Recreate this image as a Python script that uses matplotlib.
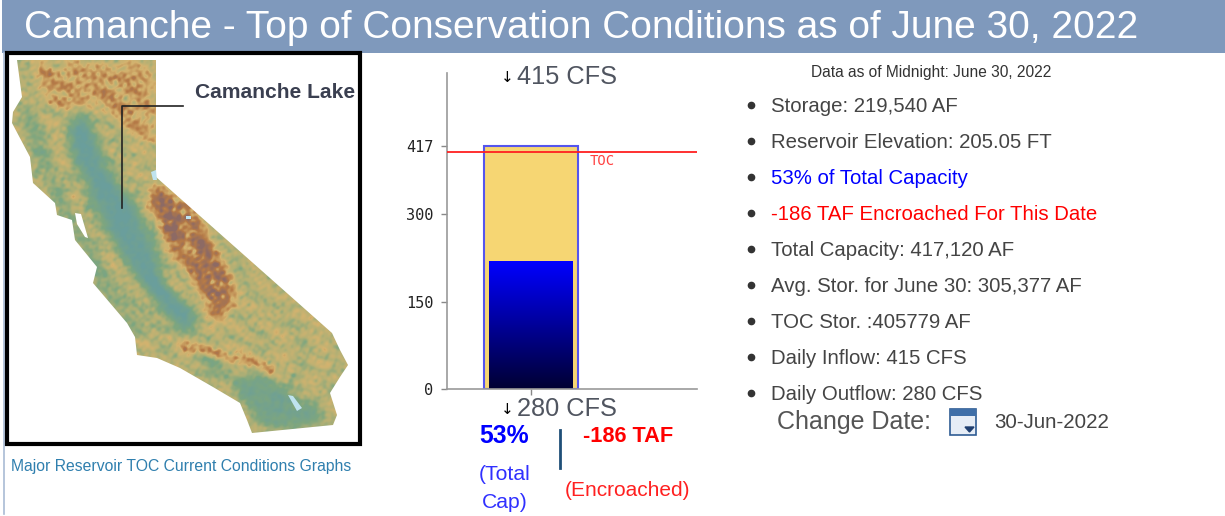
"""
Camanche reservoir conditions panel: map, storage bar and text list
"""
import matplotlib; matplotlib.use('Agg')
import matplotlib.pyplot as plt
import numpy as np
from matplotlib.colors import LinearSegmentedColormap
from matplotlib.patches import Polygon, Rectangle
from matplotlib.path import Path

plt.rcParams['font.family'] = ['Liberation Sans', 'DejaVu Sans']

W, H = 1225, 516

# chart values (TAF)
total_capacity = 417.12
storage = 219.54
toc_storage = 405.779
y_ticks = [0, 150, 300, 417]
y_top = 542

title = 'Camanche - Top of Conservation Conditions as of June 30, 2022'
info_note = 'Data as of Midnight: June 30, 2022'
info_items = ['Storage: 219,540 AF', 'Reservoir Elevation: 205.05 FT', '53% of Total Capacity',
              '-186 TAF Encroached For This Date', 'Total Capacity: 417,120 AF',
              'Avg. Stor. for June 30: 305,377 AF', 'TOC Stor. :405779 AF',
              'Daily Inflow: 415 CFS', 'Daily Outflow: 280 CFS']
info_colors = ['#444444', '#444444', '#0000ff', '#ff0000', '#444444', '#444444', '#444444', '#444444', '#444444']

# map outline and terrain zones, in screen pixels
ca_outline = [(17, 60), (156, 60), (156, 177), (332, 333), (340, 350), (348, 365), (340, 377), (330, 393),
              (337, 415), (333, 425), (252, 433), (247, 420), (240, 403), (213, 387), (180, 368), (157, 358),
              (137, 355), (135, 337), (127, 323), (93, 283), (97, 267), (75, 240), (72, 220), (57, 215),
              (55, 203), (33, 183), (30, 157), (12, 123), (13, 112), (22, 97)]
ca_valley = [(77, 107), (90, 120), (110, 173), (140, 210), (167, 287), (197, 313), (187, 337), (157, 307),
             (133, 273), (100, 220), (67, 140)]
ca_salton = [(270, 377), (333, 420), (270, 430), (250, 410), (215, 360), (190, 345), (210, 375)]
ca_sierra = [(157, 183), (190, 205), (225, 270), (235, 300), (215, 325), (205, 300), (175, 250), (145, 205)]
ca_north = [(35, 63), (153, 63), (155, 150), (100, 107), (60, 110), (40, 90)]
ca_south = [(180, 340), (270, 362), (275, 375), (245, 362), (180, 350)]
ca_coast = [(17, 100), (35, 110), (60, 180), (90, 240), (110, 280), (150, 330), (135, 340), (90, 280), (55, 200), (30, 150)]
ca_lakes = [[(151, 172), (156, 170), (157, 180), (153, 180)],
            [(288, 395), (293, 396), (302, 408), (297, 411)],
            [(186, 216), (191, 216), (191, 219), (186, 219)]]
ca_bay = [[(75, 213), (81, 214), (88, 238), (85, 237), (77, 224)]]

fig = plt.figure(figsize=(W / 100, H / 100), dpi=100, facecolor='white')
page = fig.add_axes([0, 0, 1, 1], zorder=1)
page.set_xlim(0, W); page.set_ylim(H, 0)
page.axis('off')
page.patch.set_alpha(0)

# ==========================================
# Header and frame
# ==========================================
page.add_patch(Rectangle((2, 0), W - 2, 53, fc='#7f99bc', ec='none'))
page.plot([4, 4], [53, 514], color='#a9bbd4', lw=1.2)
page.text(24, 28, title, color='white', fontsize=28, ha='left', va='center')


# ==========================================
# Terrain map (painted from zones, no real elevation data)
# ==========================================
def blur(a, k):
    kern = np.ones(k) / k
    a = np.apply_along_axis(lambda r: np.convolve(r, kern, mode='same'), 0, a)
    return np.apply_along_axis(lambda r: np.convolve(r, kern, mode='same'), 1, a)


xx, yy = np.meshgrid(np.arange(8, 358), np.arange(54, 442))
pts = np.column_stack([xx.ravel(), yy.ravel()])


def zone(poly):
    return Path(poly).contains_points(pts).reshape(xx.shape).astype(float)


relief = np.full(xx.shape, 0.47)
relief -= 0.44 * blur(zone(ca_valley), 19)
relief -= 0.32 * blur(zone(ca_salton), 19)
relief -= 0.17 * blur(zone(ca_coast), 13)
relief += 0.42 * blur(zone(ca_sierra), 17)
relief += 0.22 * blur(zone(ca_north), 15)
relief += 0.35 * blur(zone(ca_south), 9)

# layered ridges, stronger away from the valley floor
ridges = np.zeros(xx.shape)
for k in range(26):
    ang = k * 2.39996
    freq = 0.07 + 0.62 * ((k * 0.618) % 1)
    phase = np.sin(yy * 0.031 + k) * 2.5
    ridges += (np.abs(np.sin((xx * np.cos(ang) + yy * np.sin(ang)) * freq + phase + k * 1.3)) - 0.64) / (1 + freq * 2)
ridges = blur(ridges, 3)
ridges = ridges / ridges.std()
relief = np.clip(relief + (0.02 + 0.09 * relief) * ridges, 0, 1)

terrain = LinearSegmentedColormap.from_list('terrain_ca', [
    (0.0, '#6a9e9c'), (0.25, '#7ea67f'), (0.45, '#b5b074'), (0.62, '#d4b36f'),
    (0.8, '#b57a47'), (1.0, '#8d6a64')])
map_im = page.imshow(relief, cmap=terrain, vmin=0, vmax=1, extent=(8, 358, 442, 54),
                     interpolation='bilinear', aspect='auto', zorder=1)
map_im.set_clip_path(Polygon(ca_outline, transform=page.transData))
for lake in ca_lakes:
    page.add_patch(Polygon(lake, fc='#bfe3ef', ec='none', zorder=2))
for bay in ca_bay:
    page.add_patch(Polygon(bay, fc='white', ec='none', zorder=2))
page.set_xlim(0, W); page.set_ylim(H, 0)

page.add_patch(Rectangle((6.5, 52.5), 353, 391, fc='none', ec='black', lw=3, zorder=3))
page.plot([183, 122, 122], [106, 106, 208], color='#222222', lw=1.2, zorder=3)
page.text(195, 92, 'Camanche Lake', color='#3a3f50', fontsize=15.1, fontweight='bold', ha='left', va='center', zorder=3)
page.text(11, 467, 'Major Reservoir TOC Current Conditions Graphs', color='#2f7fae', fontsize=11.3, ha='left', va='center')

# ==========================================
# Storage bar
# ==========================================
ax = fig.add_axes([447 / W, 1 - 389 / H, 250 / W, 316 / H], zorder=0)
ax.set_xlim(-84, 166)
ax.set_ylim(0, y_top)
ax.bar(0, total_capacity, width=94, color='#f6d673', edgecolor='#5555ee', lw=1.5, zorder=1)
gradient = LinearSegmentedColormap.from_list('storage_blue', ['#000033', '#0000ff'])
ax.imshow(np.linspace(1, 0, 128).reshape(-1, 1), cmap=gradient, aspect='auto',
          extent=(-42, 42, 0, storage), zorder=2)
ax.set_xlim(-84, 166)
ax.set_ylim(0, y_top)
ax.axhline(toc_storage, color='#ff2020', lw=1.3, zorder=3)
ax.text(59, toc_storage - 15, 'TOC', color='#ff4040', fontsize=10, family='DejaVu Sans Mono', ha='left', va='center')
ax.set_yticks(y_ticks)
ax.set_yticklabels([str(v) for v in y_ticks], family='DejaVu Sans Mono', fontsize=11, color='#222222')
ax.set_xticks([0])
ax.set_xticklabels([''])
ax.tick_params(axis='both', color='#888888', length=4, width=1, pad=6)
for side in ['top', 'right']:
    ax.spines[side].set_visible(False)
for side in ['left', 'bottom']:
    ax.spines[side].set_color('#999999')
    ax.spines[side].set_linewidth(1.2)

page.text(501, 78, '\u2193', color='black', fontsize=11, family='DejaVu Sans', ha='left', va='center')
page.text(517, 77, '415 CFS', color='#505560', fontsize=18.3, ha='left', va='center')
page.text(501, 409, '\u2193', color='black', fontsize=11, family='DejaVu Sans', ha='left', va='center')
page.text(517, 409, '280 CFS', color='#505560', fontsize=18.3, ha='left', va='center')
page.text(504, 436, '53%', color='#0000ff', fontsize=17.8, fontweight='bold', ha='center', va='center')
page.text(505, 474, '(Total', color='#3030ff', fontsize=15.2, ha='center', va='center')
page.text(505, 503, 'Cap)', color='#3030ff', fontsize=15.2, ha='center', va='center')
page.plot([560, 560], [430, 468], color='#1f4f78', lw=2)
page.text(628, 437, '-186 TAF', color='#ff0000', fontsize=15.7, fontweight='bold', ha='center', va='center')
page.text(628, 491, '(Encroached)', color='#ff2020', fontsize=15, ha='center', va='center')

# ==========================================
# Information list
# ==========================================
page.text(931, 72, info_note, color='#333333', fontsize=11.2, ha='center', va='center')
for i, (item, c) in enumerate(zip(info_items, info_colors)):
    y = 105 + 36 * i
    page.plot(751, y, 'o', color='#333333', ms=4.5)
    page.text(771, y + 2, item, color=c, fontsize=14.7, ha='left', va='center')

page.text(777, 422, 'Change Date:', color='#555555', fontsize=18, ha='left', va='center')
page.add_patch(Rectangle((950, 409), 26, 26, fc='#e6edf6', ec='#2f5c94', lw=1.2))
page.add_patch(Rectangle((950, 409), 26, 7, fc='#3f6fa8', ec='none'))
page.fill([965, 974, 969.5], [427, 427, 432], color='#1f3f70')
page.text(994, 422, '30-Jun-2022', color='#444444', fontsize=14.8, ha='left', va='center')

fig.savefig('out.png', dpi=100)
plt.close()
